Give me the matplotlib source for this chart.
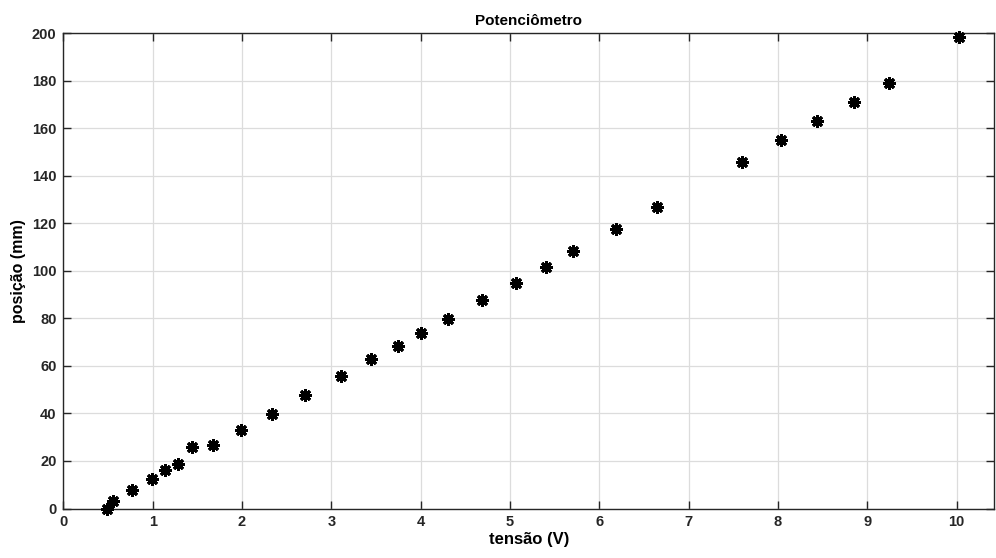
import numpy as np
import matplotlib.pyplot as plt

plt.rcParams['font.family'] = ['Liberation Sans', 'DejaVu Sans']

# dados
tensao = [0.49, 0.56, 0.77, 0.99, 1.14, 1.28, 1.44, 1.68, 1.99, 2.34,
          2.71, 3.11, 3.44, 3.75, 4.00, 4.31, 4.69, 5.07, 5.40, 5.71,
          6.19, 6.65, 7.60, 8.03, 8.44, 8.85, 9.24, 10.03]
posicao = [0.0, 3.3, 7.8, 12.4, 16.2, 18.7, 25.9, 26.7, 33.0, 39.8,
           47.7, 55.8, 62.9, 68.4, 73.8, 79.8, 87.7, 94.9, 101.7, 108.4,
           117.6, 127.1, 145.9, 155.0, 163.3, 170.9, 179.0, 198.6]
xticks = list(range(0, 11))
yticks = list(range(0, 201, 20))

fig = plt.figure(figsize=(9.96, 5.58), dpi=100)
ax = fig.add_axes([0.0636, 0.0887, 0.9345, 0.8516])

# asterisco estilo MATLAB (8 braços)
ax.plot(tensao, posicao, linestyle='none', marker=(8, 2, 0), color='black',
        markersize=9, markeredgewidth=2.1, zorder=3, clip_on=False)

ax.set_xlim(0, 10.42)
ax.set_ylim(0, 200)
ax.set_xticks(xticks)
ax.set_yticks(yticks)
ax.grid(True, color='#dcdcdc', linewidth=0.9)
ax.set_axisbelow(True)

ax.tick_params(direction='in', length=6, width=1, colors='#262626',
               top=True, right=True, labelsize=10.5, pad=5)
for lbl in ax.get_xticklabels() + ax.get_yticklabels():
    lbl.set_fontweight('bold')
for s in ax.spines.values():
    s.set_color('#262626')
    s.set_linewidth(1)

ax.set_title('Potenciômetro', fontsize=11, fontweight='bold', pad=6)
ax.set_xlabel('tensão (V)', fontsize=12, fontweight='bold', labelpad=2)
ax.set_ylabel('posição (mm)', fontsize=11.5, fontweight='bold', labelpad=4)

fig.savefig('out.png', dpi=100)
